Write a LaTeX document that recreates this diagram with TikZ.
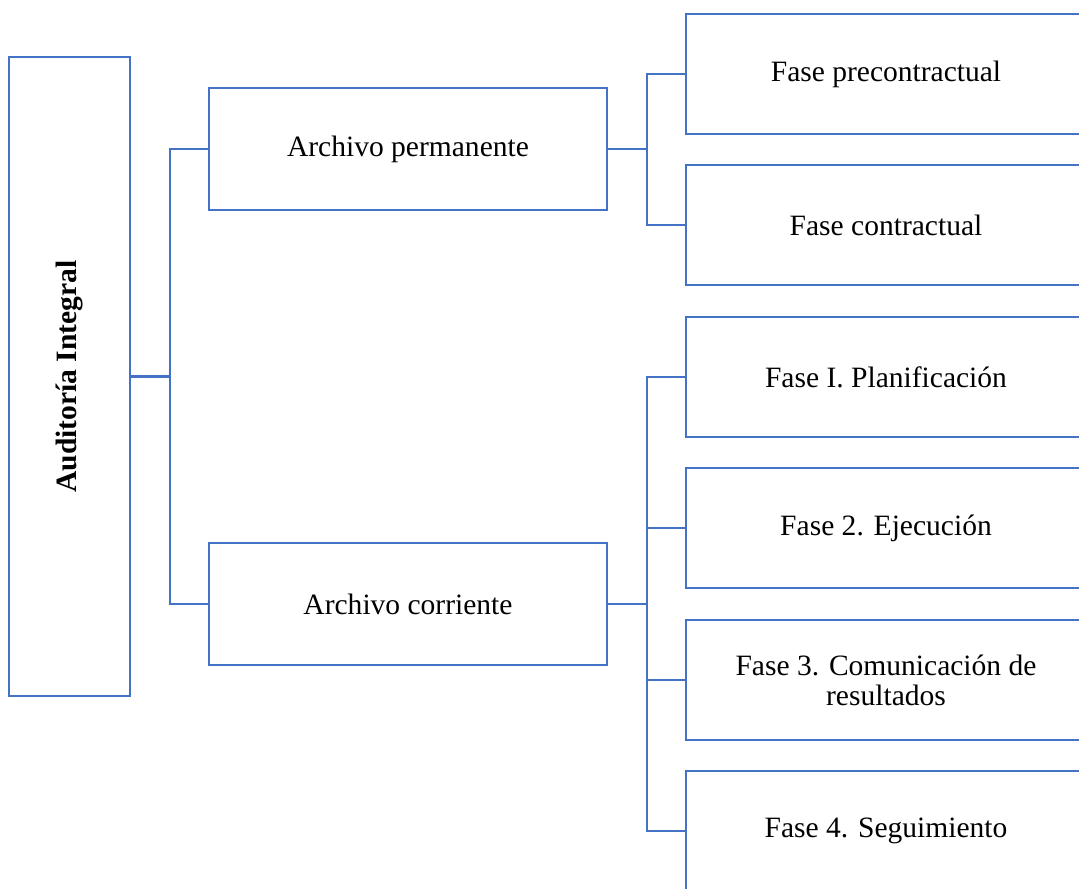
\documentclass[tikz,border=0pt]{standalone}
\usepackage{fontspec}
\setmainfont{Liberation Serif}
\definecolor{boxblue}{HTML}{4472C4}
\begin{document}
\begin{tikzpicture}[root node/.style={draw=boxblue, line width=1.7pt, minimum width=3.025cm, minimum height=15.975cm, inner sep=0pt, font=\fontsize{21}{22}\selectfont\bfseries},file node/.style={draw=boxblue, line width=1.7pt, minimum width=9.95cm, minimum height=3.05cm, inner sep=0pt, align=center, font=\fontsize{21}{22}\selectfont},phase node/.style={draw=boxblue, line width=1.7pt, minimum width=10cm, minimum height=3.0cm, inner sep=0pt, align=center, font=\fontsize{21}{21.5}\selectfont},link/.style={draw=boxblue, line width=1.7pt}]%
\path[use as bounding box] (0,0) rectangle (26.975,-22.225);%
  % Root%
\node[root node] (root) at (1.7375,-9.4125) {\rotatebox{90}{Auditoría Integral}};%
  % Files%
\node[file node] (perm) at (10.2,-3.725) {Archivo permanente};%
\node[file node] (corr) at (10.2,-15.1) {Archivo corriente};%
  % Phases%
\node[phase node] (pre) at (22.15,-1.85) {Fase precontractual};%
\node[phase node] (con) at (22.15,-5.625) {Fase contractual};%
\node[phase node] (f1) at (22.15,-9.425) {Fase I. Planificación};%
\node[phase node] (f2) at (22.15,-13.2) {Fase 2. Ejecución};%
\node[phase node] (f3) at (22.15,-17.0) {Fase 3. Comunicación de\\ resultados};%
\node[phase node] (f4) at (22.15,-20.775) {Fase 4. Seguimiento};%
  % Connectors%
\coordinate (spineA) at (4.25,-9.4125);%
\coordinate (spineB) at (16.175,-3.725);%
\coordinate (spineC) at (16.175,-15.1);%
\path[link] (root.east) -- (spineA);%
\path[link] (perm.west) -| (spineA) |- (corr.west);%
\path[link] (perm.east) -- (spineB);%
\path[link] (pre.west) -| (spineB) |- (con.west);%
\path[link] (corr.east) -- (spineC);%
\path[link] (f1.west) -| (spineC) |- (f4.west);%
\path[link] (spineC) |- (f2.west);%
\path[link] (spineC) |- (f3.west);%
\end{tikzpicture}
\end{document}
